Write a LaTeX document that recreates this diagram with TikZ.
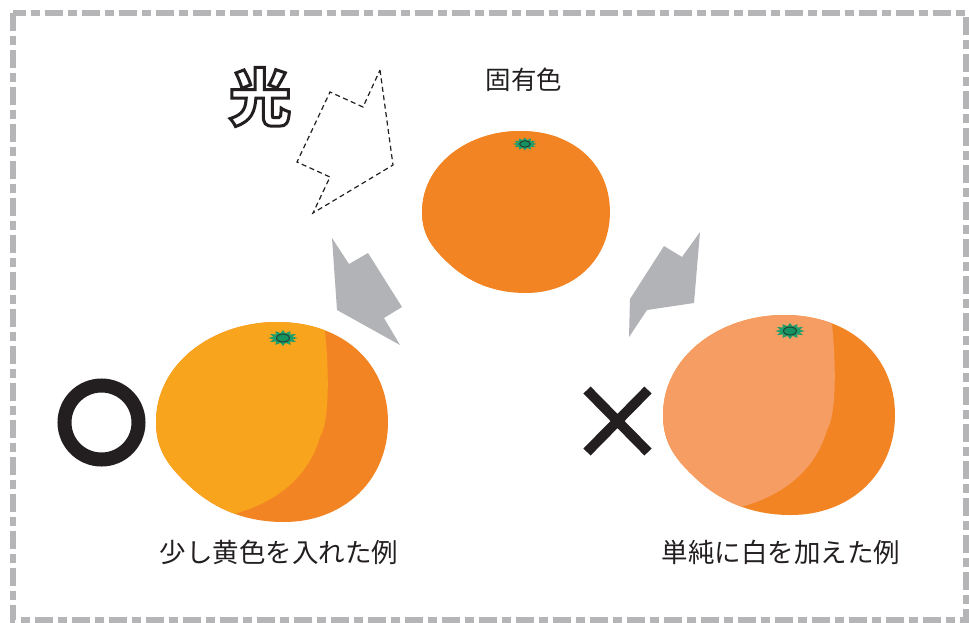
\documentclass[tikz,border=0pt]{standalone}
\usepackage{fontspec}
\usepackage{xcolor}
\usepackage{tikz}
\usetikzlibrary{calc}
\newfontfamily\jp{Noto Sans CJK JP}

\definecolor{framegray}{HTML}{B5B5B7}
\definecolor{arrowgray}{HTML}{B2B3B6}
\definecolor{orangedeep}{HTML}{F28423}
\definecolor{orangeyellow}{HTML}{F8A41C}
\definecolor{orangepale}{HTML}{F69D63}
\definecolor{calyx}{HTML}{1F9E6A}
\definecolor{calyxin}{HTML}{15925F}
\definecolor{ink}{HTML}{231F20}

% outline of one fruit, centred on the origin
\newcommand{\fruitoutline}{(-116,0) .. controls (-116,-58) and (-60,-100) .. (5,-100)
  .. controls (72,-100) and (116,-58) .. (116,0)
  .. controls (116,58) and (72,100) .. (12,100)
  .. controls (-22,100) and (-52,90) .. (-78,68)
  .. controls (-104,45) and (-116,28) .. (-116,0) -- cycle}
% hollow lettering: white fill, dark stroke
\newcommand{\hollow}[1]{\special{pdf:code q 2 Tr 3 w 0.137 0.122 0.125 RG 1 1 1 rg}#1\special{pdf:code Q}}

\begin{document}
\begin{tikzpicture}[x=1pt, y=-1pt,
    captxt/.style={font=\jp\fontsize{26.5}{30}\selectfont, text=ink, inner sep=0pt},
    markline/.style={draw=ink, line width=#1},
    pics/fruit/.style 2 args={code={
      \fill[#2] \fruitoutline;
      \begin{scope}
        \clip \fruitoutline;
        \fill[#1] (-130,-115) -- (50,-115) .. controls (58,-60) and (58,0) .. (48,15)
          .. controls (38,50) and (10,80) .. (-42,93) -- (-60,120) -- (-130,120) -- cycle;
      \end{scope}
      % calyx on top
      \begin{scope}[shift={(11,-84)}]
        \fill[calyx] (0:15 and 8) \foreach \a in {0,30,...,330}{ -- (\a:15 and 8) -- (\a+15:10 and 5)} -- cycle;
        \draw[ink!80!calyx, line width=0.9, fill=calyxin] (0,0) ellipse (6.5 and 4);
      \end{scope}
    }}]
  \useasboundingbox (0,0) rectangle (969,622);

  % frame
  \draw[framegray, line width=6, dash pattern=on 18 off 5 on 9 off 5] (13,12.5) rectangle (966,620);

  % the three fruits
  \pic[scale=0.81] at (516,212) {fruit={orangedeep}{orangedeep}};
  \pic at (272,422) {fruit={orangeyellow}{orangedeep}};
  \pic at (779,415) {fruit={orangepale}{orangedeep}};

  % grey arrows
  \fill[arrowgray] (332,238) -- (349,264) -- (368,253) -- (402,307) -- (384,318) -- (400,345) -- (337,310) -- cycle;
  \fill[arrowgray] (700,232) -- (694,303) -- (647,310) -- (629,337) -- (630,299) -- (664,246) -- (682,257) -- cycle;

  % light arrow, dashed
  \draw[ink, line width=1.2, dash pattern=on 5 off 3.5, line join=miter]
    (380,70) -- (393,165) -- (313,213) -- (330,177) -- (297,162) -- (330,92) -- (363,107) -- cycle;
  \node[font=\jp\bfseries\fontsize{62}{64}\selectfont, inner sep=0pt] (hikari) at (260,97) {\hollow{光}};

  % good / bad marks
  \draw[markline=14] (101.5,422.5) circle (37);
  \coordinate (xa) at (587,390);
  \coordinate (xb) at (648,452);
  \coordinate (xc) at (648,390);
  \coordinate (xd) at (587,452);
  \draw[markline=10] (xa) -- (xb) (xc) -- (xd);

  % labels
  \node[captxt, font=\jp\fontsize{25.5}{28}\selectfont] (koyu) at (524,80) {固有色};
  \node[captxt] (kiiro) at (279,552) {少し黄色を入れた例};
  \node[captxt] (shiro) at (781,552) {単純に白を加えた例};
\end{tikzpicture}
\end{document}
